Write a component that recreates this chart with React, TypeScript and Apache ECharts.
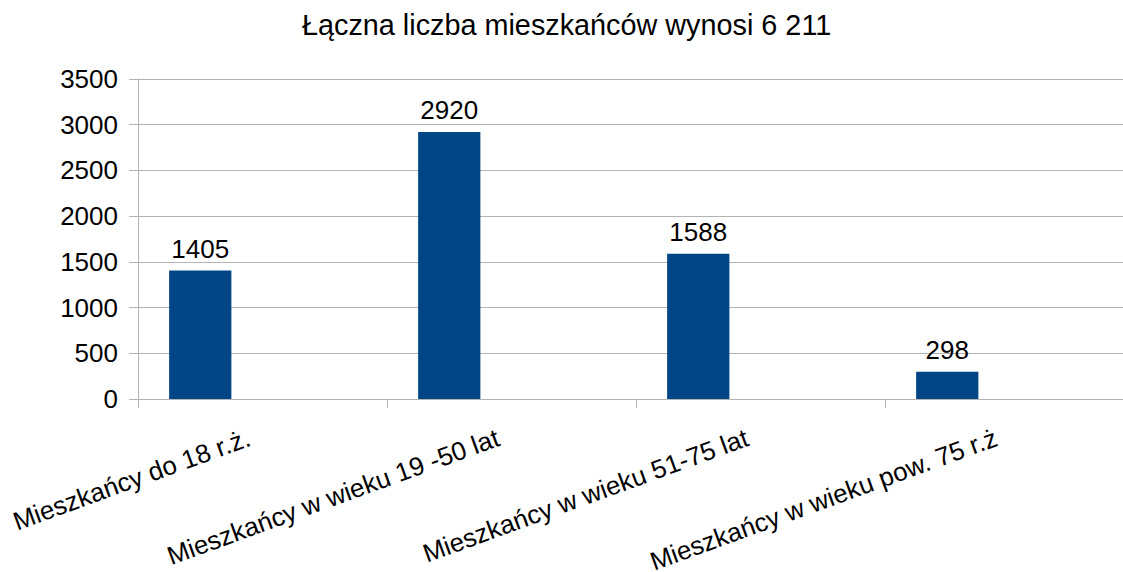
import React, { useEffect, useRef } from "react";
import * as echarts from "echarts";

const titleText = "Łączna liczba mieszkańców wynosi 6 211";
const categories = [
  "Mieszkańcy do 18 r.ż.",
  "Mieszkańcy w wieku 19 -50 lat",
  "Mieszkańcy w wieku 51-75 lat",
  "Mieszkańcy w wieku pow. 75 r.ż",
];
const values = [1405, 2920, 1588, 298];
const emptyValues = ["-", "-", "-", "-"];
const yMin = 0;
const yMax = 3500;
const yInterval = 500;

const FONT = "'Liberation Sans', Arial, sans-serif";
const GRID_COLOR = "#b3b3b3";

export default function App() {
  const ref = useRef<HTMLDivElement>(null);
  useEffect(() => {
    document.body.style.margin = "0";
    if (!ref.current) return;
    const chart = echarts.init(ref.current, null, { renderer: "svg" });
    chart.setOption({
      animation: false,
      backgroundColor: "#ffffff",
      textStyle: { fontFamily: FONT },
      title: {
        text: titleText,
        left: 302,
        top: 10,
        padding: 0,
        textStyle: { fontFamily: FONT, fontSize: 28.8, fontWeight: "normal", color: "#000" },
      },
      grid: {
        left: 138,
        top: 79,
        width: 996,
        height: 320,
        containLabel: false,
        outerBoundsMode: "none",
      },
      xAxis: {
        type: "category",
        data: categories,
        axisLine: { show: true, lineStyle: { color: GRID_COLOR, width: 1 } },
        axisTick: { show: true, alignWithLabel: false, length: 9, lineStyle: { color: GRID_COLOR } },
        axisLabel: {
          interval: 0,
          rotate: 20,
          margin: 19,
          verticalAlign: "top",
          padding: [0, 19, 0, 0],
          color: "#000",
          fontFamily: FONT,
          fontSize: 26,
        },
        splitLine: { show: false },
      },
      yAxis: {
        type: "value",
        min: yMin,
        max: yMax,
        interval: yInterval,
        axisLine: { show: true, lineStyle: { color: GRID_COLOR, width: 1 } },
        axisTick: { show: true, length: 9, lineStyle: { color: GRID_COLOR } },
        axisLabel: {
          margin: 20,
          color: "#000",
          fontFamily: FONT,
          fontSize: 26,
          formatter: (v: number) => String(v),
        },
        splitLine: { show: true, lineStyle: { color: GRID_COLOR, width: 1 } },
      },
      series: [
        {
          type: "bar",
          data: values,
          barWidth: "25%",
          barGap: "0%",
          itemStyle: { color: "#004586" },
          label: {
            show: true,
            position: "top",
            distance: 9,
            color: "#000",
            fontFamily: FONT,
            fontSize: 26,
          },
        },
        { type: "bar", data: emptyValues, barWidth: "25%", barGap: "0%", silent: true },
        { type: "bar", data: emptyValues, barWidth: "25%", barGap: "0%", silent: true },
      ],
    });
    return () => chart.dispose();
  }, []);
  return <div ref={ref} style={{ width: 1123, height: 572 }} />;
}
